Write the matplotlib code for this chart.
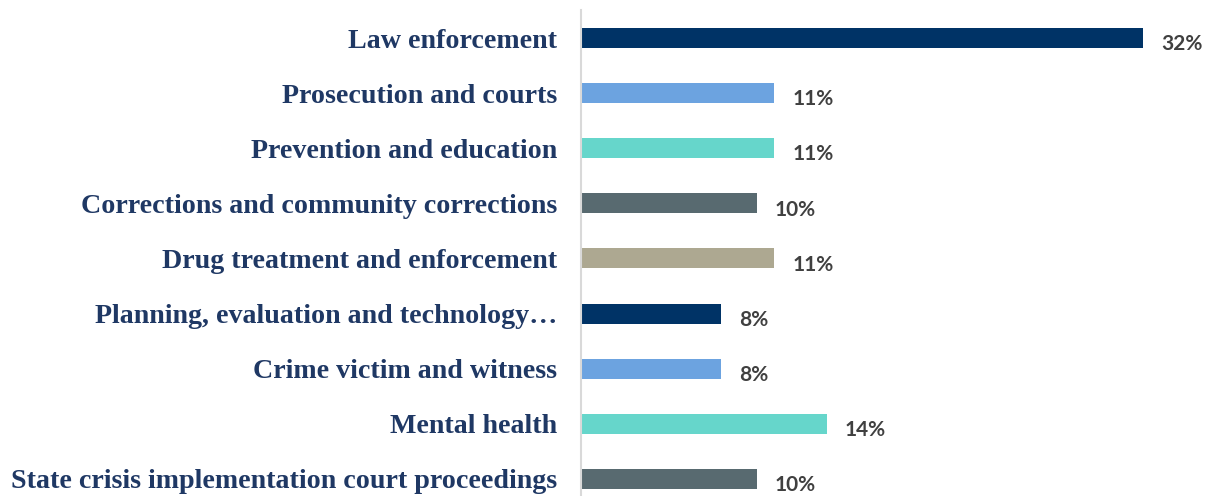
import matplotlib
matplotlib.use("Agg")
import matplotlib.pyplot as plt

categories = [
    "Law enforcement",
    "Prosecution and courts",
    "Prevention and education",
    "Corrections and community corrections",
    "Drug treatment and enforcement",
    "Planning, evaluation and technology\u2026",
    "Crime victim and witness",
    "Mental health",
    "State crisis implementation court proceedings",
]
values = [32, 11, 11, 10, 11, 8, 8, 14, 10]
colors = ["#003366", "#6CA3E0", "#66D6CB", "#586A70", "#ADA891",
          "#003366", "#6CA3E0", "#66D6CB", "#586A70"]

W, H = 1211, 496
fig = plt.figure(figsize=(W / 100, H / 100), dpi=100)
left_px, right_px = 581, 1195.6
top_px = 10
ax = fig.add_axes([left_px / W, 0, (right_px - left_px) / W, (H - top_px) / H])

ys = list(range(len(categories)))
ax.barh(ys, values, height=0.363, color=colors)
ax.set_xlim(0, 35)
row = 55.1
ax.set_ylim(8.31, -0.69 + top_px / row)

for s in ["top", "right", "bottom"]:
    ax.spines[s].set_visible(False)
ax.spines["left"].set_color("#d9d9d9")
ax.spines["left"].set_linewidth(1.5)
ax.set_xticks([])
ax.set_yticks(ys)
ax.set_yticklabels(categories, family="Liberation Serif", fontweight="bold",
                   fontsize=20.2, color="#1F3864")
ax.tick_params(axis="y", length=0, pad=17)
for lbl in ax.get_yticklabels():
    lbl.set_y(lbl.get_position()[1])

for y, v in zip(ys, values):
    ax.annotate(f"{v}%", xy=(v, y), xytext=(13, -4.5), textcoords="offset points",
                ha="left", va="center", fontsize=15, fontweight="bold",
                family="Lato", color="#404040")

fig.savefig("out.png", dpi=100)
